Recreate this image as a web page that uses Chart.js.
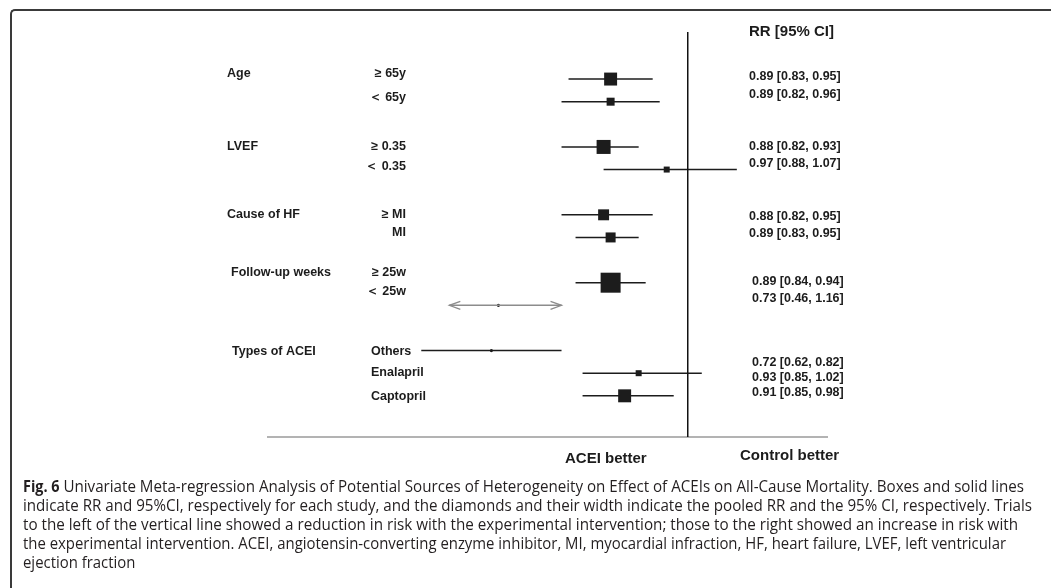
<!DOCTYPE html>
<html>
<head>
<meta charset="utf-8">
<script src="https://cdn.jsdelivr.net/npm/chart.js@4.4.0/dist/chart.umd.min.js"></script>
<style>
  html, body { margin: 0; padding: 0; background: #fff; overflow: hidden; }
  #wrap { position: relative; width: 1051px; height: 588px; overflow: hidden; }
  #frame {
    position: absolute; left: 10px; top: 9px; width: 1060px; height: 600px;
    border-top: 2px solid #3a3a3a; border-left: 2px solid #3a3a3a;
    border-top-left-radius: 5px;
  }
  canvas { position: absolute; left: 0; top: 0; }
</style>
</head>
<body>
<div id="wrap">
  <div id="frame"></div>
  <canvas id="forestChart" width="1051" height="588"></canvas>
</div>
<script>
// groups and subgroups, top to bottom
const groups = ["Age", "LVEF", "Cause of HF", "Follow-up weeks", "Types of ACEI"];
const groupSizes = [2, 2, 2, 2, 3];
const subgroups = ["≥ 65y", "＜ 65y", "≥ 0.35", "＜ 0.35", "≥ MI", "MI", "≥ 25w", "＜ 25w", "Others", "Enalapril", "Captopril"];

// RR and CI as drawn on the plot
const rr     = [0.89, 0.89, 0.88, 0.97, 0.88, 0.89, 0.89, 0.73, 0.72, 0.93, 0.91];
const ciLow  = [0.83, 0.82, 0.82, 0.88, 0.82, 0.84, 0.84, 0.66, 0.62, 0.85, 0.85];
const ciHigh = [0.95, 0.96, 0.93, 1.07, 0.95, 0.93, 0.94, 0.82, 0.82, 1.02, 0.98];
const weights = [42, 16, 49, 9, 30, 25, 100, 2, 2, 9, 42];
const truncated = [false, false, false, false, false, false, false, true, false, false, false];

// printed column
const rrText = [
  "0.89 [0.83, 0.95]", "0.89 [0.82, 0.96]",
  "0.88 [0.82, 0.93]", "0.97 [0.88, 1.07]",
  "0.88 [0.82, 0.95]", "0.89 [0.83, 0.95]",
  "0.89 [0.84, 0.94]", "0.73 [0.46, 1.16]",
  "0.72 [0.62, 0.82]", "0.93 [0.85, 1.02]", "0.91 [0.85, 0.98]",
];

const xRange = [0.4, 1.2];
const nullValue = 1;

const captionBold = "Fig. 6";
const captionLines = [
  " Univariate Meta-regression Analysis of Potential Sources of Heterogeneity on Effect of ACEIs on All-Cause Mortality. Boxes and solid lines",
  "indicate RR and 95%CI, respectively for each study, and the diamonds and their width indicate the pooled RR and the 95% CI, respectively. Trials",
  "to the left of the vertical line showed a reduction in risk with the experimental intervention; those to the right showed an increase in risk with",
  "the experimental intervention. ACEI, angiotensin-converting enzyme inhibitor, MI, myocardial infraction, HF, heart failure, LVEF, left ventricular",
  "ejection fraction",
];

// row index per subgroup, one blank row between groups
const rowOf = [];
let k = 0;
groupSizes.forEach((n) => {
  for (let i = 0; i < n; i++) rowOf.push(k++);
  k++;
});

const Y_MIN = -2.08;
const Y_MAX = 15.82;
const INK = "#1c1c1c";
const LABEL_FONT = "bold 12.5px 'Liberation Sans', Arial, sans-serif";

// text layout (pixels)
const groupLabelY = [74, 147, 215, 273, 352];
const groupLabelX = [227, 227, 227, 231, 232];
const subLabelY = [74, 98, 147, 167, 215, 233, 273, 292, 352, 373, 397];
const rrTextY = [77, 95, 147, 164, 217, 234, 282, 299, 363, 378, 393];
const captionY = [487, 506, 525, 544, 563];
const captionRight = [1024, 1032, 1018, 1006];

const datasets = [];

// reference line at RR = 1
datasets.push({
  type: "line",
  data: [{ x: nullValue, y: Y_MIN }, { x: nullValue, y: Y_MAX }],
  borderColor: "#111",
  borderWidth: 1.5,
  pointRadius: 0,
  clip: false,
});

// bottom axis line
datasets.push({
  type: "line",
  data: [{ x: xRange[0], y: Y_MAX }, { x: xRange[1], y: Y_MAX }],
  borderColor: "#9a9a9a",
  borderWidth: 1.5,
  pointRadius: 0,
  clip: false,
});

// confidence intervals
subgroups.forEach((s, i) => {
  datasets.push({
    type: "line",
    label: s,
    data: [{ x: ciLow[i], y: rowOf[i] }, { x: ciHigh[i], y: rowOf[i] }],
    borderColor: truncated[i] ? "#8c8c8c" : INK,
    borderWidth: truncated[i] ? 1.5 : 1.4,
    pointRadius: 0,
    clip: false,
    arrows: truncated[i],
  });
});

// boxes
datasets.push({
  type: "scatter",
  data: rr.map((v, i) => ({ x: v, y: rowOf[i] })),
  pointStyle: weights.map((w) => (w < 4 ? "circle" : "rect")),
  pointRadius: weights.map((w) => (w < 4 ? 1.6 : (2 * Math.sqrt(w)) / Math.SQRT2)),
  backgroundColor: INK,
  borderWidth: 0,
  clip: false,
});

const textPlugin = {
  id: "forestText",
  afterDraw(chart) {
    const ctx = chart.ctx;
    const xs = chart.scales.x;

    // arrowheads on truncated intervals
    chart.data.datasets.forEach((ds) => {
      if (!ds.arrows) return;
      const y = chart.scales.y.getPixelForValue(ds.data[0].y);
      const x0 = xs.getPixelForValue(ds.data[0].x);
      const x1 = xs.getPixelForValue(ds.data[1].x);
      ctx.save();
      ctx.strokeStyle = ds.borderColor;
      ctx.lineWidth = 1.3;
      ctx.beginPath();
      ctx.moveTo(x0 + 11, y - 4); ctx.lineTo(x0, y); ctx.lineTo(x0 + 11, y + 4);
      ctx.moveTo(x1 - 11, y - 4); ctx.lineTo(x1, y); ctx.lineTo(x1 - 11, y + 4);
      ctx.stroke();
      ctx.restore();
    });

    ctx.save();
    ctx.fillStyle = INK;
    ctx.textBaseline = "middle";
    ctx.font = LABEL_FONT;

    groups.forEach((g, i) => {
      ctx.textAlign = "left";
      ctx.fillText(g, groupLabelX[i], groupLabelY[i]);
    });

    let gi = 0, left = groupSizes[0];
    subgroups.forEach((s, i) => {
      if (left === 0) { gi++; left = groupSizes[gi]; }
      left--;
      if (gi < 4) {
        ctx.textAlign = "right";
        ctx.fillText(s, 406, subLabelY[i]);
      } else {
        ctx.textAlign = "left";
        ctx.fillText(s, 371, subLabelY[i]);
      }
    });

    ctx.textAlign = "left";
    rrText.forEach((t, i) => ctx.fillText(t, i < 6 ? 749 : 752, rrTextY[i]));

    ctx.font = "bold 15px 'Liberation Sans', Arial, sans-serif";
    ctx.fillText("RR [95% CI]", 749, 32);
    ctx.fillText("ACEI better", 565, 459);
    ctx.fillText("Control better", 740, 456);

    // caption
    ctx.fillStyle = "#231f20";
    ctx.font = "bold 16px 'Open Sans', sans-serif";
    const boldW = ctx.measureText(captionBold).width * 0.9;
    ctx.fillText(captionBold, 23, captionY[0], boldW);
    ctx.font = "16px 'Open Sans', sans-serif";
    let squeeze = 1;
    captionLines.forEach((line, i) => {
      const x = i === 0 ? 23 + boldW : 23;
      const natural = ctx.measureText(line).width;
      if (i < captionRight.length) {
        const w = captionRight[i] - x;
        squeeze = w / natural;
        ctx.fillText(line, x, captionY[i], w);
      } else {
        ctx.fillText(line, x, captionY[i], natural * squeeze);
      }
    });
    ctx.restore();
  },
};

function renderForest() {
  const canvas = document.getElementById("forestChart");
  new Chart(canvas.getContext("2d"), {
    data: { datasets: datasets },
    options: {
      responsive: false,
      animation: false,
      layout: { padding: { left: 267, right: 223, top: 32, bottom: 151 } },
      plugins: { legend: { display: false }, tooltip: { enabled: false } },
      scales: {
        x: { type: "linear", min: xRange[0], max: xRange[1], display: false },
        y: { type: "linear", min: Y_MIN, max: Y_MAX, reverse: true, display: false },
      },
    },
    plugins: [textPlugin],
  });
}

renderForest();
</script>
</body>
</html>
